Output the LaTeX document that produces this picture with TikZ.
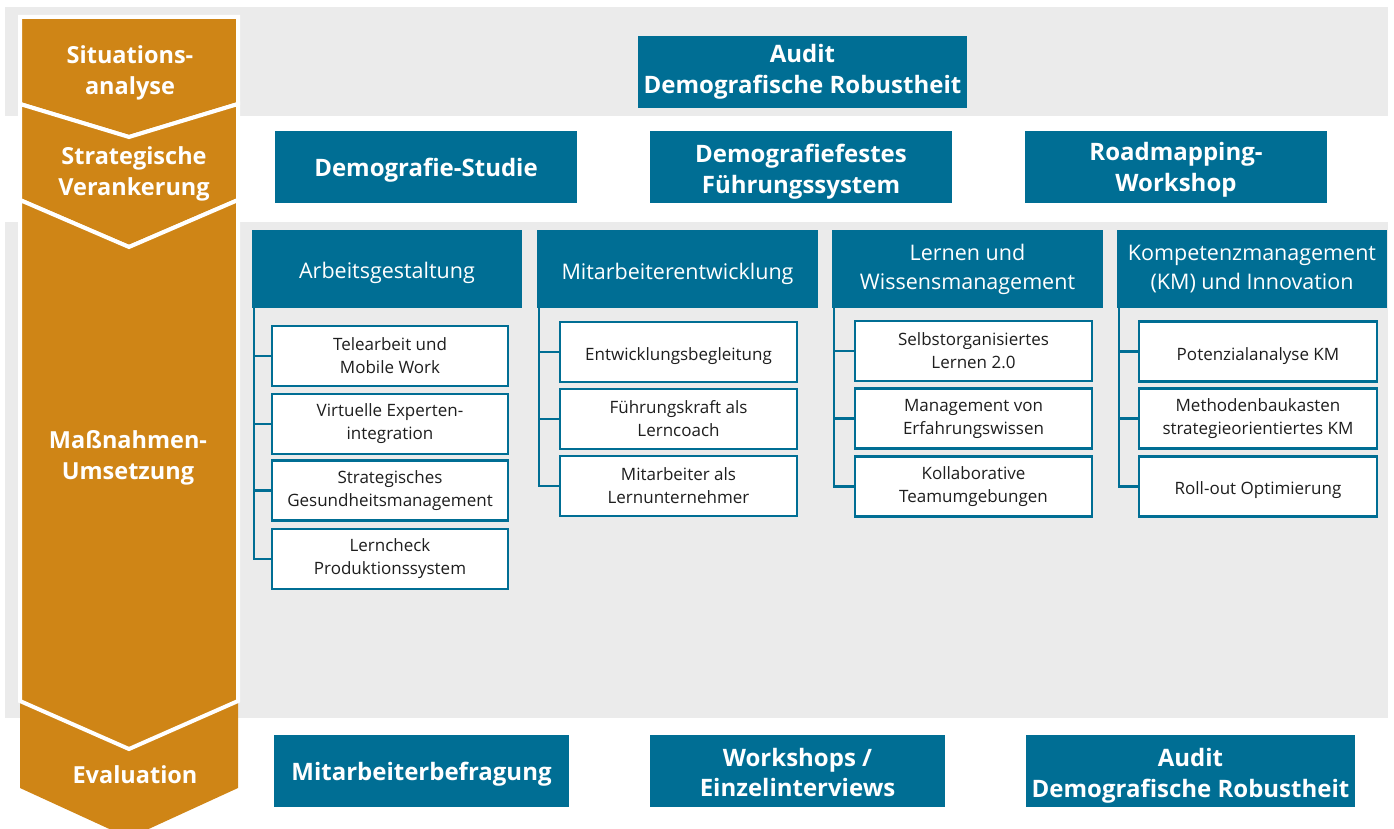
\documentclass[tikz,border=0pt]{standalone}
\usepackage{fontspec}
\setmainfont{Open Sans}
\definecolor{fhteal}{RGB}{0,110,148}
\definecolor{fhorange}{RGB}{207,133,22}
\definecolor{fhgrey}{RGB}{235,235,235}
\definecolor{fhtext}{RGB}{30,30,30}
\begin{document}
\begin{tikzpicture}[x=1pt,y=-1pt,
    phase/.style={fill=fhorange,draw=white,line width=4pt,line join=miter},
    phasetext/.style={text=white,font=\fontsize{23.5}{30.5}\selectfont\bfseries,align=center},
    tool/.style={fill=fhteal,text=white,font=\fontsize{24}{30.5}\selectfont\bfseries,align=center,inner sep=0pt,minimum height=72pt},
    field/.style={fill=fhteal,text=white,font=\fontsize{21.5}{29}\selectfont,align=center,inner sep=0pt,minimum height=78pt},
    item/.style={draw=fhteal,line width=2.5pt,fill=white,text=fhtext,font=\fontsize{17}{23}\selectfont,align=center,inner sep=0pt,minimum height=60pt},
    texth/.style={text height=#1},
    tree/.style={draw=fhteal,line width=2.5pt}]
                \useasboundingbox (0,0) rectangle (1394,829);
                \clip (0,0) rectangle (1394,829);

                \fill[fhgrey] (5,7) rectangle (1388,116);
                \fill[fhgrey] (5,222) rectangle (1388,718);

                \fill[fhorange] (20,701) -- (129,749) -- (238,701) -- (238,788) -- (129,838) -- (20,788) -- cycle;
                \path[phase] (20,17) -- (238,17) -- (238,104) -- (129,137) -- (20,104) -- cycle;
                \path[phase] (20,104) -- (129,137) -- (238,104) -- (238,200) -- (129,247) -- (20,200) -- cycle;
                \path[phase] (20,200) -- (129,247) -- (238,200) -- (238,701) -- (129,749) -- (20,701) -- cycle;

                \node[phasetext] (p1) at (130,73) {Situations-\\analyse};
                \node[phasetext] (p2) at (134,174) {Strategische\\Verankerung};
                \node[phasetext] (p3) at (128,458) {Maßnahmen-\\Umsetzung};
                \node[phasetext] (p4) at (135,775) {Evaluation};

                \node[tool,minimum width=329pt] (audA) at (802.5,72) {Audit\\Demografische Robustheit};
                \node[tool,minimum width=302pt,texth=24pt] (studie) at (426,167) {Demografie-Studie};
                \node[tool,minimum width=302pt,texth=58pt] (fuehr) at (801,167) {Demografiefestes\\Führungssystem};
                \node[tool,minimum width=302pt,texth=54pt] (road) at (1176,167) {Roadmapping-\\Workshop};
                \node[tool,minimum width=295pt,texth=24pt] (befr) at (421.5,771) {Mitarbeiterbefragung};
                \node[tool,minimum width=295pt,texth=52pt] (work) at (797.5,771) {Workshops /\\Einzelinterviews};
                \node[tool,minimum width=329pt,texth=58pt] (audB) at (1190.5,771) {Audit\\Demografische Robustheit};

                \node[field,minimum width=270pt,texth=25pt] (hA) at (387,269) {Arbeitsgestaltung};
                \node[field,minimum width=281pt,texth=27pt] (hB) at (677.5,269) {Mitarbeiterentwicklung};
                \node[field,minimum width=271pt] (hC) at (967.5,269) {Lernen und\\Wissensmanagement};
                \node[field,minimum width=270pt] (hD) at (1252,269) {Kompetenzmanagement\\(KM) und Innovation};

                \node[item,minimum width=236pt] (a1) at (390,356) {Telearbeit und\\Mobile Work};
                \node[item,minimum width=236pt] (a2) at (390,424) {Virtuelle Experten-\\integration};
                \node[item,minimum width=236pt] (a3) at (390,490.5) {Strategisches\\Gesundheitsmanagement};
                \node[item,minimum width=236pt] (a4) at (390,559) {Lerncheck\\Produktionssystem};

                \node[item,minimum width=237pt,texth=22pt] (b1) at (678.5,352) {Entwicklungsbegleitung};
                \node[item,minimum width=237pt] (b2) at (678.5,419) {Führungskraft als\\Lerncoach};
                \node[item,minimum width=237pt] (b3) at (678.5,486) {Mitarbeiter als\\Lernunternehmer};

                \node[item,minimum width=237pt] (c1) at (973.5,351) {Selbstorganisiertes\\Lernen 2.0};
                \node[item,minimum width=237pt] (c2) at (973.5,418.5) {Management von\\Erfahrungswissen};
                \node[item,minimum width=237pt] (c3) at (973.5,486.5) {Kollaborative\\Teamumgebungen};

                \node[item,minimum width=238pt,texth=23pt] (d1) at (1258,351.5) {Potenzialanalyse KM};
                \node[item,minimum width=238pt] (d2) at (1258,418.5) {Methodenbaukasten\\strategieorientiertes KM};
                \node[item,minimum width=238pt,texth=21pt] (d3) at (1258,486.5) {Roll-out Optimierung};

                \coordinate (tA) at (254,308);
                \coordinate (tB) at (539,308);
                \coordinate (tC) at (834,308);
                \coordinate (tD) at (1119,308);

                \draw[tree] (tA) |- (a4.west);
                \draw[tree] (tA |- a1.west) -- (a1.west);
                \draw[tree] (tA |- a2.west) -- (a2.west);
                \draw[tree] (tA |- a3.west) -- (a3.west);

                \draw[tree] (tB) |- (b3.west);
                \draw[tree] (tB |- b1.west) -- (b1.west);
                \draw[tree] (tB |- b2.west) -- (b2.west);

                \draw[tree] (tC) |- (c3.west);
                \draw[tree] (tC |- c1.west) -- (c1.west);
                \draw[tree] (tC |- c2.west) -- (c2.west);

                \draw[tree] (tD) |- (d3.west);
                \draw[tree] (tD |- d1.west) -- (d1.west);
                \draw[tree] (tD |- d2.west) -- (d2.west);
            \end{tikzpicture}
\end{document}
